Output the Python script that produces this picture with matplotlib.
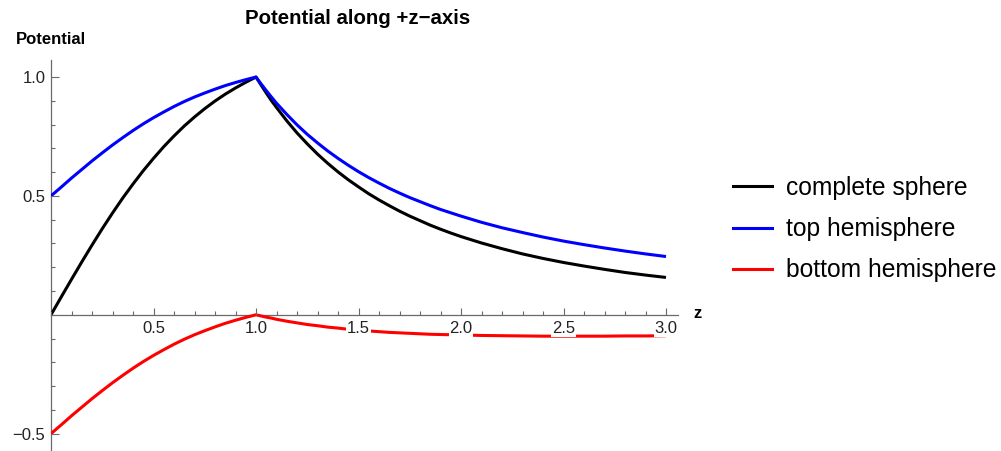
import matplotlib.pyplot as plt
from matplotlib.ticker import FixedLocator, MultipleLocator
from matplotlib.lines import Line2D

plt.rcParams['font.family'] = ['Liberation Sans', 'DejaVu Sans']

# Values (potential along the +z axis).
z = [0.0, 0.05, 0.1, 0.15, 0.2, 0.25, 0.3, 0.35, 0.4, 0.45,
     0.5, 0.55, 0.6, 0.65, 0.7, 0.75, 0.8, 0.85, 0.9, 0.95, 1.0,
     1.025, 1.05, 1.075, 1.1,
     1.15, 1.2, 1.25, 1.3, 1.35, 1.4, 1.45, 1.5,
     1.55, 1.6, 1.65, 1.7, 1.75, 1.8, 1.85, 1.9, 1.95, 2.0,
     2.1, 2.2, 2.3, 2.4, 2.5, 2.6, 2.7, 2.8, 2.9, 3.0]

complete_sphere = [0.000, 0.075, 0.149, 0.222, 0.293, 0.362, 0.428, 0.491, 0.550, 0.606,
                   0.658, 0.707, 0.752, 0.794, 0.832, 0.867, 0.899, 0.928, 0.954, 0.978, 1.000,
                   0.966, 0.933, 0.901, 0.872,
                   0.816, 0.765, 0.719, 0.676, 0.637, 0.601, 0.568, 0.538,
                   0.509, 0.483, 0.459, 0.436, 0.415, 0.396, 0.377, 0.360, 0.344, 0.329,
                   0.302, 0.278, 0.256, 0.237, 0.220, 0.205, 0.191, 0.178, 0.167, 0.157]

top_hemisphere = [0.500, 0.537, 0.575, 0.611, 0.647, 0.681, 0.714, 0.745, 0.775, 0.803,
                  0.829, 0.853, 0.876, 0.897, 0.916, 0.933, 0.949, 0.964, 0.977, 0.989, 1.000,
                  0.971, 0.943, 0.916, 0.890,
                  0.843, 0.799, 0.759, 0.723, 0.689, 0.658, 0.629, 0.602,
                  0.577, 0.554, 0.532, 0.512, 0.493, 0.476, 0.459, 0.443, 0.429, 0.415,
                  0.389, 0.366, 0.346, 0.327, 0.310, 0.295, 0.281, 0.268, 0.256, 0.245]

bottom_hemisphere = [-0.500, -0.463, -0.425, -0.389, -0.353, -0.319, -0.286, -0.255, -0.225, -0.197,
                     -0.171, -0.147, -0.124, -0.103, -0.084, -0.067, -0.051, -0.036, -0.023, -0.011, 0.000,
                     -0.005, -0.010, -0.014, -0.019,
                     -0.027, -0.034, -0.041, -0.046, -0.052, -0.056, -0.061, -0.064,
                     -0.068, -0.071, -0.074, -0.076, -0.078, -0.080, -0.082, -0.083, -0.084, -0.085,
                     -0.087, -0.088, -0.089, -0.090, -0.090, -0.090, -0.090, -0.089, -0.089, -0.088]

series_labels = ["complete sphere", "top hemisphere", "bottom hemisphere"]
series_colors = ["black", "#0000ff", "#ff0000"]

x_major = [0.5, 1.0, 1.5, 2.0, 2.5, 3.0]
x_major_labels = ["0.5", "1.0", "1.5", "2.0", "2.5", "3.0"]
y_major = [-0.5, 0.5, 1.0]
y_major_labels = ["\u22120.5", "0.5", "1.0"]

W, H = 1001, 451
fig = plt.figure(figsize=(W / 100, H / 100), dpi=100)
ax = fig.add_axes([51 / W, 0.0, (678.3 - 51) / W, 390.6 / H])

for values, color in zip([complete_sphere, top_hemisphere, bottom_hemisphere], series_colors):
    ax.plot(z, values, color=color, lw=2.2, zorder=3,
            solid_joinstyle='round', solid_capstyle='butt')

ax.set_xlim(0, 3.06)
ax.set_ylim(-0.573, 1.07)

axis_gray = "#6a6a6a"
for side in ("top", "right"):
    ax.spines[side].set_visible(False)
ax.spines["left"].set_position(("data", 0))
ax.spines["bottom"].set_position(("data", 0))
for side in ("left", "bottom"):
    ax.spines[side].set_color(axis_gray)
    ax.spines[side].set_linewidth(0.9)
    ax.spines[side].set_zorder(1)
ax.xaxis.set_zorder(4)
ax.yaxis.set_zorder(4)

ax.xaxis.set_major_locator(FixedLocator(x_major))
ax.set_xticklabels(x_major_labels)
ax.xaxis.set_minor_locator(MultipleLocator(0.1))
ax.yaxis.set_major_locator(FixedLocator(y_major))
ax.set_yticklabels(y_major_labels)
ax.yaxis.set_minor_locator(MultipleLocator(0.1))

ax.tick_params(which="both", direction="in", color=axis_gray, width=0.8,
               labelsize=12, labelcolor="#222222")
ax.tick_params(which="major", length=5.4)
ax.tick_params(which="minor", length=3.0)
ax.tick_params(axis="x", pad=4.4)
ax.tick_params(axis="y", pad=4)

# Mathematica-style: tick labels sit on a white patch that cuts the curve.
for lbl in ax.get_xticklabels():
    lbl.set_bbox(dict(facecolor="white", edgecolor="none", pad=0.5))

fig.text(358 / W, 1 - 19 / H, "Potential along +z\u2212axis", ha="center", va="center",
         fontsize=14.7, fontweight="bold")
fig.text(51 / W, 1 - 39 / H, "Potential", ha="center", va="center",
         fontsize=12, fontweight="bold")
fig.text(697 / W, 1 - 314 / H, "z", ha="center", va="center",
         fontsize=12, fontweight="bold")

handles = [Line2D([], [], color=c, lw=2.2) for c in series_colors]
fig.legend(handles, series_labels, loc="upper left", bbox_to_anchor=(733 / W, 1 - 176 / H),
           frameon=False, fontsize=17.7, borderaxespad=0, borderpad=0,
           handlelength=1.6, handletextpad=0.55, labelspacing=0.7)

fig.savefig("out.png", dpi=100)
